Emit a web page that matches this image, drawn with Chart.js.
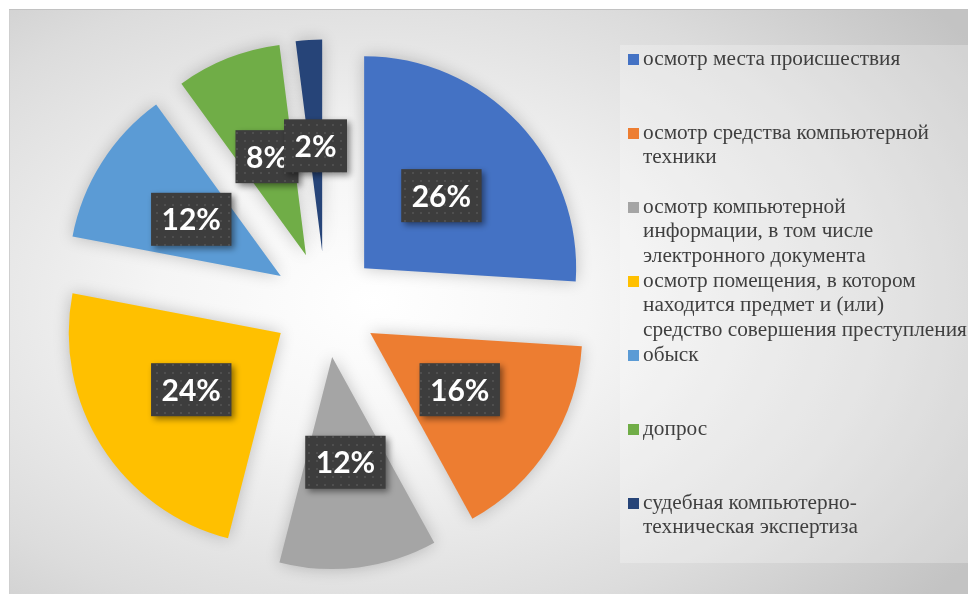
<!DOCTYPE html>
<html lang="ru">
<head>
<meta charset="utf-8">
<title>Следственные действия</title>
<script src="https://cdn.jsdelivr.net/npm/chart.js@4.4.0/dist/chart.umd.min.js"></script>
<style>
    html, body { margin: 0; padding: 0; background: #fff; }
    body { width: 968px; height: 594px; position: relative; overflow: hidden; }
    #frame {
        position: absolute; left: 9px; top: 9px; width: 959px; height: 585px;
        background: radial-gradient(ellipse 75% 80% at 38% 50%, #ffffff 0%, #f5f5f5 30%, #dcdcdc 70%, #c3c3c3 100%);
        box-shadow: inset 0 1px 0 #c2c2c2, inset 1px 0 0 #cfcfcf;
    }
    #chart { position: absolute; left: 0; top: 0; }
    #legendBox {
        position: absolute; left: 611px; top: 36px; width: 348px; height: 518px;
        background: rgba(255, 255, 255, 0.25);
    }
    #legend { position: absolute; left: 620px; top: 45px; width: 348px; }
    .item { position: absolute; left: 0; width: 348px; }
    .mark { position: absolute; left: 8px; top: 8px; width: 11px; height: 11px; }
    .text {
        position: absolute; left: 23px; white-space: nowrap;
        font-family: "Liberation Serif", "Times New Roman", serif;
        font-size: 21.3px; line-height: 24.3px; color: #3f3f3f;
    }
</style>
</head>
<body>
<div id="frame">
    <div id="legendBox"></div>
    <canvas id="chart" width="959" height="585"></canvas>
</div>
<div id="legend"></div>

<script>
// Categories (legend lines as shown in the picture)
const categories = [
    ['осмотр места происшествия'],
    ['осмотр средства компьютерной', 'техники'],
    ['осмотр компьютерной', 'информации, в том числе', 'электронного документа'],
    ['осмотр помещения, в котором', 'находится предмет и (или)', 'средство совершения преступления'],
    ['обыск'],
    ['допрос'],
    ['судебная компьютерно-', 'техническая экспертиза']
];

// Share of each action, percent
const shares = [26, 16, 12, 24, 12, 8, 2];

// Office palette
const colors = ['#4472C4', '#ED7D31', '#A5A5A5', '#FFC000', '#5B9BD5', '#70AD47', '#264478'];

const EXPLODE = 0.25; // slice pull-out, fraction of radius

// Small dotted pattern for the data label boxes
function makePattern(ctx) {
    const p = document.createElement('canvas');
    p.width = 8; p.height = 8;
    const pc = p.getContext('2d');
    pc.fillStyle = '#3d3d3d';
    pc.fillRect(0, 0, 8, 8);
    pc.fillStyle = '#4f4f4f';
    pc.fillRect(3, 3, 2, 2);
    return ctx.createPattern(p, 'repeat');
}

// Draws every slice pulled out from the centre, with a soft shadow
const explodePlugin = {
    id: 'explode',
    beforeDatasetDraw(chart, args) {
        const ctx = chart.ctx;
        args.meta.data.forEach(arc => {
            const mid = (arc.startAngle + arc.endAngle) / 2;
            const d = arc.outerRadius * EXPLODE;
            ctx.save();
            ctx.translate(Math.cos(mid) * d, Math.sin(mid) * d);
            ctx.shadowColor = 'rgba(0, 0, 0, 0.22)';
            ctx.shadowBlur = 16;
            arc.draw(ctx);
            ctx.restore();
        });
        return false;
    }
};

// Percent labels in dark boxes
const labelPlugin = {
    id: 'boxLabels',
    afterDatasetsDraw(chart) {
        const ctx = chart.ctx;
        const meta = chart.getDatasetMeta(0);
        const values = chart.data.datasets[0].data;
        const pattern = makePattern(ctx);
        ctx.save();
        ctx.font = 'bold 30px Lato, "Open Sans", sans-serif';
        meta.data.forEach((arc, i) => {
            const mid = (arc.startAngle + arc.endAngle) / 2;
            const r = arc.outerRadius * (EXPLODE + 0.5);
            const cx = arc.x + Math.cos(mid) * r;
            const cy = arc.y + Math.sin(mid) * r;
            const text = values[i] + '%';
            const w = ctx.measureText(text).width + 21;
            const h = 53;

            ctx.save();
            ctx.shadowColor = 'rgba(0, 0, 0, 0.45)';
            ctx.shadowBlur = 6;
            ctx.shadowOffsetX = 3;
            ctx.shadowOffsetY = 3;
            ctx.fillStyle = pattern;
            ctx.fillRect(cx - w / 2, cy - h / 2, w, h);
            ctx.restore();

            ctx.fillStyle = '#ffffff';
            ctx.textAlign = 'center';
            ctx.textBaseline = 'alphabetic';
            ctx.fillText(text, cx, cy + 11);
        });
        ctx.restore();
    }
};

const chart = new Chart(document.getElementById('chart'), {
    type: 'pie',
    data: {
        labels: categories,
        datasets: [{
            data: shares,
            backgroundColor: colors,
            borderWidth: 0,
            radius: 212
        }]
    },
    options: {
        responsive: false,
        animation: false,
        events: [],
        devicePixelRatio: 1,
        layout: { padding: { left: 0, right: 326, top: 6, bottom: 0 } },
        plugins: {
            legend: { display: false },
            tooltip: { enabled: false }
        }
    },
    plugins: [explodePlugin, labelPlugin]
});

// HTML legend, one entry per slot
const legend = document.getElementById('legend');
categories.forEach((lines, i) => {
    const item = document.createElement('div');
    item.className = 'item';
    item.style.top = (1 + i * 74) + 'px';
    const mark = document.createElement('div');
    mark.className = 'mark';
    mark.style.background = colors[i];
    const text = document.createElement('div');
    text.className = 'text';
    text.innerHTML = lines.join('<br>');
    item.appendChild(mark);
    item.appendChild(text);
    legend.appendChild(item);
});
</script>
</body>
</html>
